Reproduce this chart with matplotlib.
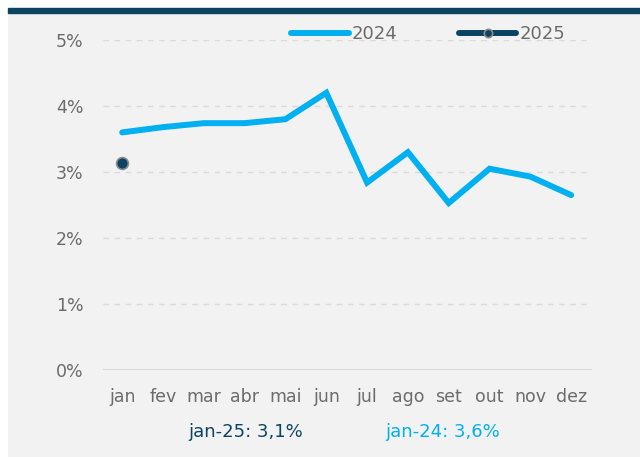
import matplotlib.pyplot as plt
from matplotlib.patches import Rectangle

# dados
meses = ['jan', 'fev', 'mar', 'abr', 'mai', 'jun', 'jul', 'ago', 'set', 'out', 'nov', 'dez']
serie_2024 = [3.60, 3.68, 3.74, 3.74, 3.80, 4.20, 2.84, 3.30, 2.53, 3.05, 2.93, 2.65]
serie_2025 = [3.13]
yticks = [0, 1, 2, 3, 4, 5]

azul = '#00b0f0'
marinho = '#0b4463'
cinza_txt = '#6b6b6b'

plt.rcParams['font.family'] = ['DejaVu Sans']

fig = plt.figure(figsize=(6.4, 4.57), dpi=100)
W, H = 640, 457

# fundo cinza e barra do topo
fig.patches.append(Rectangle((8 / W, 1 / H), 1 - 8 / W, (456 - 13) / H,
                             transform=fig.transFigure, color='#f2f2f2', zorder=-10))
fig.patches.append(Rectangle((8 / W, (H - 13) / H), 1 - 8 / W, 5 / H,
                             transform=fig.transFigure, color=marinho, zorder=-10))

ax = fig.add_axes([103 / W, (H - 370) / H, (592 - 103) / W, (370 - 40) / H])
ax.set_facecolor('none')

x = list(range(len(meses)))
ax.plot(x, serie_2024, color=azul, lw=4.3, solid_capstyle='round',
        solid_joinstyle='miter', label='2024', clip_on=False, zorder=3)
ax.plot(x[:len(serie_2025)], serie_2025, color=marinho, lw=4.3, marker='o', ms=8.5,
        mfc=marinho, mec='#8c8c8c', mew=1.2, solid_capstyle='round',
        label='2025', clip_on=False, zorder=4)

ax.set_xlim(-0.47, 11.51)
ax.set_ylim(0, 5)
ax.set_yticks(yticks)
ax.set_yticklabels([f'{v}%' for v in yticks])
ax.set_xticks(x)
ax.set_xticklabels(meses)

for v in yticks[1:]:
    ax.axhline(v, color='#dadada', lw=1, ls=(0, (4, 4)), zorder=1)
ax.axhline(0, color='#d9d9d9', lw=1.5, zorder=1)

for s in ax.spines.values():
    s.set_visible(False)
ax.tick_params(length=0, colors=cinza_txt, labelsize=12.5)
ax.tick_params(axis='y', pad=14)
ax.tick_params(axis='x', pad=13)

leg = ax.legend(loc='center', bbox_to_anchor=((428 - 103) / (592 - 103), 1 + 6 / 330),
                ncol=2, frameon=False, fontsize=13, labelcolor=cinza_txt,
                handlelength=3.2, handletextpad=0.15, columnspacing=3.4,
                borderaxespad=0, borderpad=0)
leg.legend_handles[1].set_markersize(6)

fig.text(246 / W, (H - 432) / H, 'jan-25: 3,1%', color=marinho, fontsize=13,
         ha='center', va='center')
fig.text(443 / W, (H - 432) / H, 'jan-24: 3,6%', color=azul, fontsize=13,
         ha='center', va='center')

fig.savefig('out.png', dpi=100)
